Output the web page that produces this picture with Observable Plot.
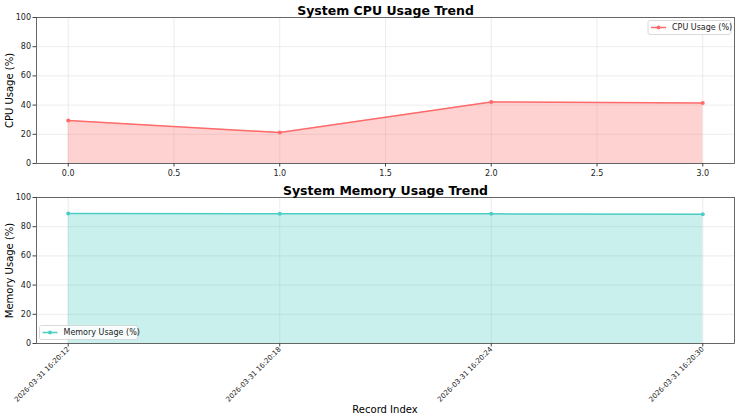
<!DOCTYPE html>
<html>
<head>
<meta charset="utf-8">
<script src="https://cdn.jsdelivr.net/npm/d3@7"></script>
<script src="https://cdn.jsdelivr.net/npm/@observablehq/plot@0.6"></script>
<style>
  html, body { margin: 0; padding: 0; background: #fff; }
  #chart { width: 740px; height: 420px; font-family: "DejaVu Sans", sans-serif; }
  #chart svg { display: block; background: #fff; }
</style>
</head>
<body>
<div id="chart"></div>
<script>
const recordIndex = [0, 1, 2, 3];
const timestamps = ["2026-03-31 16:20:12", "2026-03-31 16:20:18", "2026-03-31 16:20:24", "2026-03-31 16:20:30"];
const cpuUsage = [29.4, 21.2, 42.2, 41.5];
const memoryUsage = [89.0, 88.9, 88.8, 88.6];
const cpuTicks = [0, 0.5, 1.0, 1.5, 2.0, 2.5, 3.0];
const yTicks = [0, 20, 40, 60, 80, 100];

const cpuColor = "#ff6b6b";
const memColor = "#4ecdc4";
const font = "DejaVu Sans, sans-serif";

const cpuData = recordIndex.map((i, k) => ({i, v: cpuUsage[k]}));
const memData = recordIndex.map((i, k) => ({i, v: memoryUsage[k]}));

function panel({data, color, height, marginTop, marginBottom, title, ylabel, xTicks, xFormat, rotate}) {
  return Plot.plot({
    width: 740, height, marginLeft: 36, marginRight: 6, marginTop, marginBottom,
    style: {fontFamily: font, background: "#fff", overflow: "visible"},
    x: {domain: [-0.15, 3.15]},
    y: {domain: [0, 100]},
    marks: [
      Plot.gridX(xTicks, {stroke: "#b0b0b0", strokeOpacity: 0.3, strokeWidth: 0.8}),
      Plot.gridY(yTicks, {stroke: "#b0b0b0", strokeOpacity: 0.3, strokeWidth: 0.8}),
      Plot.areaY(data, {x: "i", y: "v", fill: color, fillOpacity: 0.3}),
      Plot.lineY(data, {x: "i", y: "v", stroke: color, strokeWidth: 1.5}),
      Plot.dot(data, {x: "i", y: "v", r: 2, fill: color}),
      Plot.frame({stroke: "#444", strokeWidth: 0.8}),
      Plot.axisY(yTicks, {tickSize: 3.5, tickPadding: 2, fontSize: 8, label: null, fill: "#222", stroke: "#444"}),
      Plot.axisX(xTicks, {tickSize: 3.5, tickPadding: rotate ? 1 : 3, fontSize: rotate ? 7 : 8, label: null,
        tickFormat: xFormat, tickRotate: rotate ? -45 : 0, fill: "#222", stroke: "#444"}),
      Plot.text([title], {frameAnchor: "top", lineAnchor: "bottom", dy: -3, fontSize: 12.5, fontWeight: "bold", fill: "#000"}),
      Plot.text([ylabel], {frameAnchor: "left", textAnchor: "middle", lineAnchor: "middle", dx: -27, rotate: -90, fontSize: 10, fill: "#000"})
    ]
  });
}

const chart = document.getElementById("chart");

const cpuPanel = panel({
  data: cpuData, color: cpuColor, height: 182, marginTop: 17, marginBottom: 19,
  title: "System CPU Usage Trend", ylabel: "CPU Usage (%)",
  xTicks: cpuTicks, xFormat: d3.format(".1f"), rotate: false
});
const memPanel = panel({
  data: memData, color: memColor, height: 238, marginTop: 15, marginBottom: 77,
  title: "System Memory Usage Trend", ylabel: "Memory Usage (%)",
  xTicks: recordIndex, xFormat: (d) => timestamps[d], rotate: true
});
chart.appendChild(cpuPanel);
chart.appendChild(memPanel);

// x axis label for bottom panel
d3.select(memPanel).append("text")
  .attr("x", 385).attr("y", 231).attr("text-anchor", "middle")
  .attr("font-size", 10).attr("font-family", font).attr("fill", "#000")
  .text("Record Index");

function legend(svg, {x, y, w, color, label}) {
  const g = d3.select(svg).append("g").attr("font-family", font);
  g.append("rect").attr("x", x).attr("y", y).attr("width", w).attr("height", 14)
    .attr("rx", 2).attr("fill", "#fff").attr("fill-opacity", 0.85).attr("stroke", "#d0d0d0").attr("stroke-width", 0.8);
  g.append("line").attr("x1", x + 3).attr("x2", x + 18).attr("y1", y + 7).attr("y2", y + 7)
    .attr("stroke", color).attr("stroke-width", 1.5);
  g.append("circle").attr("cx", x + 10.5).attr("cy", y + 7).attr("r", 2).attr("fill", color);
  g.append("text").attr("x", x + 24).attr("y", y + 7).attr("dy", "0.35em")
    .attr("text-anchor", "start")
    .attr("font-size", 8).attr("fill", "#222").text(label);
}
legend(cpuPanel, {x: 648, y: 20.5, w: 83, color: cpuColor, label: "CPU Usage (%)"});
legend(memPanel, {x: 39.5, y: 325.5 - 182, w: 98, color: memColor, label: "Memory Usage (%)"});
</script>
</body>
</html>
